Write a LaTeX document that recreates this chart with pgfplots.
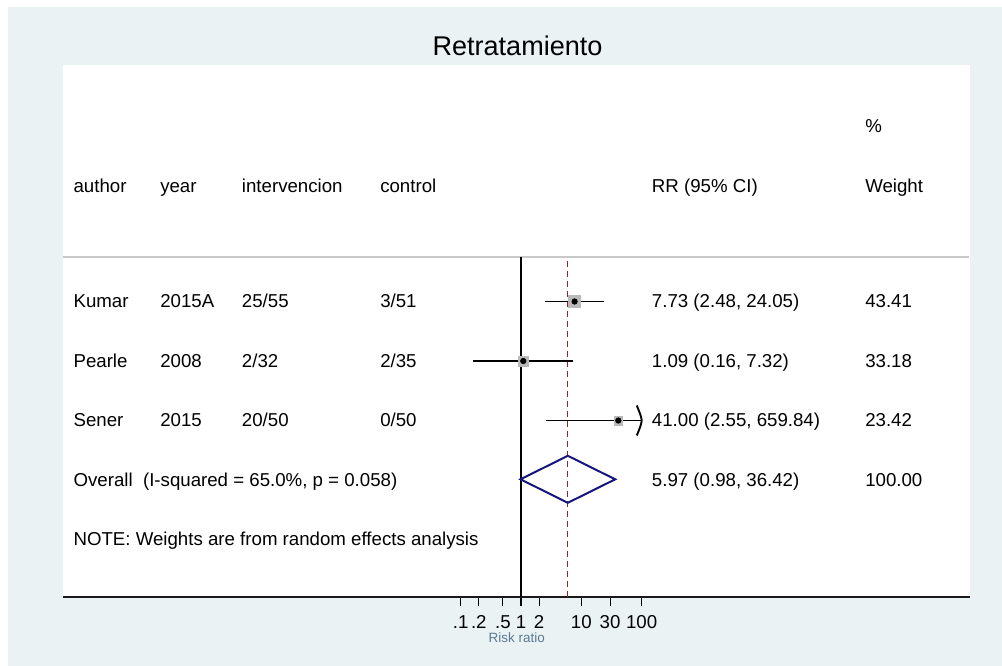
\documentclass[border=0pt]{standalone}
\usepackage{pgfplots}
\pgfplotsset{compat=1.18}
\usepackage{fontspec}
\setmainfont{Liberation Sans}
\definecolor{bgc}{RGB}{234,242,243}
\definecolor{hdr}{RGB}{200,200,200}
\definecolor{boxc}{RGB}{185,185,185}
\definecolor{maroonc}{RGB}{150,35,45}
\definecolor{navyc}{RGB}{22,22,122}
\definecolor{xlab}{RGB}{90,122,150}
\newcommand{\bt}{\fontsize{14}{16}\selectfont}
\begin{document}
\begin{tikzpicture}
\begin{scope}[x=0.75pt,y=0.75pt]
\useasboundingbox (0,0) rectangle (1002,666);
\fill[bgc] (8,0) rectangle (1002,659);
\fill[white] (63,69) rectangle (970,601);
\draw[hdr, line width=1.1pt] (63,409) -- (969,409);
\node[font=\fontsize{20.3}{24}\selectfont] at (517.5,620) {Retratamiento};
\end{scope}
\begin{axis}[
  at={(47.25pt,51.75pt)}, anchor=south west, scale only axis,
  width=680.25pt, height=399pt,
  xmode=log, xmin=2.559e-8, xmax=2.770e7,
  ymin=-5.966, ymax=2.975,
  axis x line=bottom, axis y line=none,
  axis line style={-, line width=1.4pt, black!90},
  tick align=outside, major tick length=6.75pt,
  major tick style={line width=0.8pt, black},
  xtick={0.1,0.2,0.5,1,2,10,30,100},
  xticklabels={.1,.2,.5,1,2,10,30,100},
  xminorticks=false,
  /pgf/number format/assume math mode=true,
  xticklabel style={font=\bt, inner sep=2pt, yshift=-5pt},
  clip=false,
]
% reference lines
\addplot[black, line width=1.3pt] coordinates {(1,-5.966) (1,-0.252)};
\addplot[maroonc, line width=1pt, dash pattern=on 4.5pt off 3pt] coordinates {(5.97,-5.966) (5.97,-0.252)};
% confidence intervals
\addplot[black, line width=1.4pt] coordinates {(2.48,-1) (24.05,-1)};
\addplot[black, line width=1.4pt] coordinates {(0.16,-2) (7.32,-2)};
\addplot[black, line width=1.4pt] coordinates {(2.55,-3) (100,-3)};
\addplot[black, line width=1.4pt, smooth] coordinates {(83,-2.748) (95,-2.9) (100,-3) (95,-3.1) (83,-3.252)};
% weight boxes
\addplot[only marks, mark=square*, mark size=4.4pt, mark options={fill=boxc, draw=boxc}] coordinates {(7.73,-1)};
\addplot[only marks, mark=square*, mark size=3.8pt, mark options={fill=boxc, draw=boxc}] coordinates {(1.09,-2)};
\addplot[only marks, mark=square*, mark size=3.3pt, mark options={fill=boxc, draw=boxc}] coordinates {(41,-3)};
% point estimates
\addplot[only marks, mark=*, mark size=2.1pt, black] coordinates {(7.73,-1) (1.09,-2) (41,-3)};
% overall diamond
\addplot[navyc, line width=1.5pt, line join=miter] coordinates {(0.98,-3.988) (5.97,-3.593) (36.42,-3.988) (5.97,-4.383) (0.98,-3.988)} -- cycle;
\end{axis}
\begin{scope}[x=0.75pt,y=0.75pt,every node/.style={anchor=base west, inner sep=0pt, font=\bt}]
% header
\node at (865,533) {\%};
\node at (73.3,473.5) {author};
\node at (160,473.5) {year};
\node at (241.7,473.5) {intervencion};
\node at (380,473.5) {control};
\node at (651.7,473.5) {RR (95\% CI)};
\node at (865,473.5) {Weight};
% Kumar
\node at (73.3,358) {Kumar};
\node at (160,358) {2015A};
\node at (241.7,358) {25/55};
\node at (380,358) {3/51};
\node at (651.7,358) {7.73 (2.48, 24.05)};
\node at (865,358) {43.41};
% Pearle
\node at (73.3,298.5) {Pearle};
\node at (160,298.5) {2008};
\node at (241.7,298.5) {2/32};
\node at (380,298.5) {2/35};
\node at (651.7,298.5) {1.09 (0.16, 7.32)};
\node at (865,298.5) {33.18};
% Sener
\node at (73.3,239) {Sener};
\node at (160,239) {2015};
\node at (241.7,239) {20/50};
\node at (380,239) {0/50};
\node at (651.7,239) {41.00 (2.55, 659.84)};
\node at (865,239) {23.42};
% Overall
\node at (73.3,179.5) {Overall\ \ (I-squared = 65.0\%, p = 0.058)};
\node at (651.7,179.5) {5.97 (0.98, 36.42)};
\node at (865,179.5) {100.00};
% note
\node at (73.3,120) {NOTE: Weights are from random effects analysis};
\node[anchor=center, font=\fontsize{10.1}{12}\selectfont, text=xlab] at (516.7,28) {Risk ratio};
\end{scope}
\end{tikzpicture}
\end{document}
